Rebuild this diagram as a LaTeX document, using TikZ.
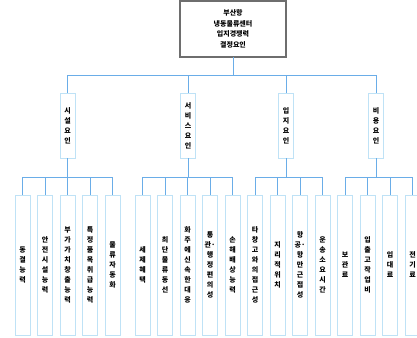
\documentclass[tikz,border=0pt]{standalone}
\usepackage{fontspec}
\setmainfont{Noto Sans CJK KR}
\usepackage{xcolor}
\usetikzlibrary{positioning}

\definecolor{boxblue}{HTML}{BFE2F6}
\definecolor{lineblue}{HTML}{6AADE8}
\definecolor{topgray}{HTML}{6E6E6E}

\begin{document}
\begin{tikzpicture}[
          x=1pt, y=-1pt,
          goal/.style={rectangle, draw=topgray, line width=1.3pt, minimum width=106pt, minimum height=56pt, inner sep=0pt, outer sep=0pt, align=center, font=\fontsize{7}{10.5}\selectfont\bfseries},
          factor/.style={rectangle, draw=boxblue, line width=0.9pt, minimum width=15pt, minimum height=65pt, inner sep=0pt, outer sep=0pt, align=center, font=\fontsize{7}{10}\selectfont\bfseries},
          item/.style={rectangle, draw=boxblue, line width=0.9pt, minimum width=15pt, minimum height=140pt, inner sep=0pt, outer sep=0pt, align=center, font=\fontsize{7}{10}\selectfont\bfseries},
          link/.style={draw=lineblue, line width=0.9pt},
          node distance=7.5pt
      ]
      \useasboundingbox (0,0) rectangle (417,337);

      % Goal
      \node[goal] (goal) at (233,29) {부산항\\냉동물류센터\\입지경쟁력\\결정요인};

      % Factors
      \node[factor] (f1) at (67.5,125.5) {시\\설\\요\\인};
      \node[factor] (f2) at (188,125.5) {서\\비\\스\\요\\인};
      \node[factor] (f3) at (286,125.5) {입\\지\\요\\인};
      \node[factor] (f4) at (376,125.5) {비\\용\\요\\인};

      % Items
      \node[item] (a1) at (22.5,265) {동\\결\\능\\력};
      \node[item, right=of a1] (a2) {안\\전\\시\\설\\능\\력};
      \node[item, right=of a2] (a3) {부\\가\\가\\치\\창\\출\\능\\력};
      \node[item, right=of a3] (a4) {특\\정\\품\\목\\취\\급\\능\\력};
      \node[item, right=of a4] (a5) {물\\류\\자\\동\\화};

      \node[item, right=15pt of a5] (b1) {세\\제\\혜\\택};
      \node[item, right=of b1] (b2) {최\\단\\물\\류\\동\\선};
      \node[item, right=of b2] (b3) {화\\주\\에\\신\\속\\한\\대\\응};
      \node[item, right=of b3] (b4) {통\\관·\\행\\정\\편\\의\\성};
      \node[item, right=of b4] (b5) {손\\해\\배\\상\\능\\력};

      \node[item, right=of b5] (c1) {타\\창\\고\\와\\의\\접\\근\\성};
      \node[item, right=of c1] (c2) {지\\리\\적\\위\\치};
      \node[item, right=of c2] (c3) {항\\공·\\항\\만\\근\\접\\성};
      \node[item, right=of c3] (c4) {운\\송\\소\\요\\시\\간};

      \node[item, right=of c4] (d1) {보\\관\\료};
      \node[item, right=of d1] (d2) {입\\출\\고\\작\\업\\비};
      \node[item, right=of d2] (d3) {임\\대\\료};
      \node[item, right=of d3] (d4) {전\\기\\료};

      % Goal to factors
      \draw[link] (goal.south) -- ++(0,18) coordinate (top bus);
      \foreach \f in {f1,f2,f3,f4}
        \draw[link] (top bus) -| (\f.north);

      % Factors to items
      \draw[link] (f1.south) -- ++(0,19) coordinate (bus a);
      \draw[link] (f2.south) -- ++(0,19) coordinate (bus b);
      \draw[link] (f3.south) -- ++(0,19) coordinate (bus c);
      \draw[link] (f4.south) -- ++(0,19) coordinate (bus d);
      \foreach \i in {a1,a2,a3,a4,a5}
        \draw[link] (bus a) -| (\i.north);
      \foreach \i in {b1,b2,b3,b4,b5}
        \draw[link] (bus b) -| (\i.north);
      \foreach \i in {c1,c2,c3,c4}
        \draw[link] (bus c) -| (\i.north);
      \foreach \i in {d1,d2,d3,d4}
        \draw[link] (bus d) -| (\i.north);

\end{tikzpicture}
\end{document}
